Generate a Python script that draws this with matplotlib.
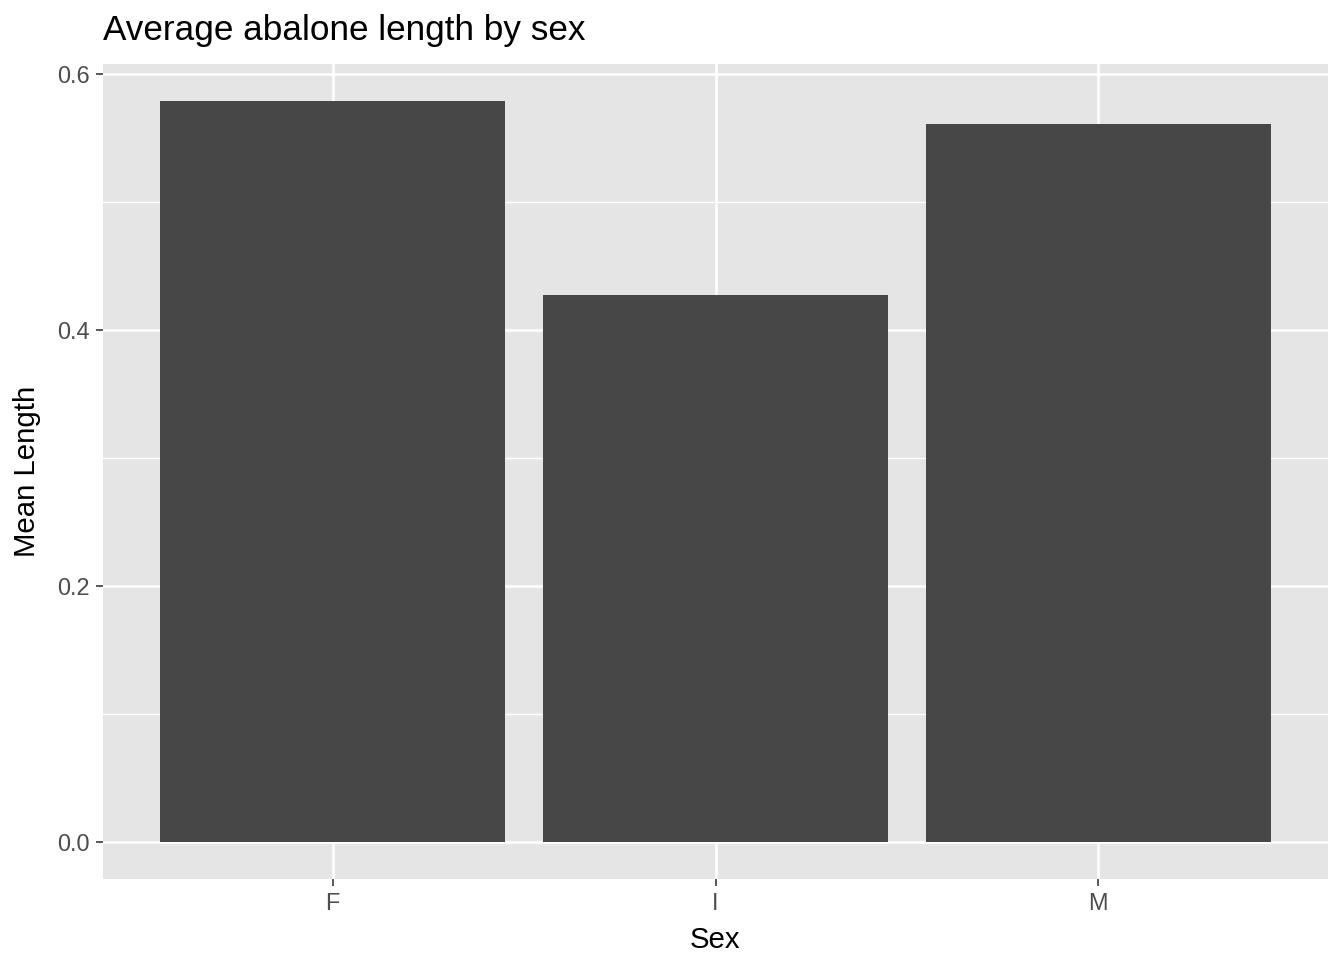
import matplotlib
matplotlib.use("Agg")
import matplotlib.pyplot as plt
from matplotlib.ticker import FixedLocator

plt.rcParams['font.family'] = ['Liberation Sans', 'DejaVu Sans']

sexes = ["F", "I", "M"]
mean_length = [0.5791, 0.4277, 0.5613]

fig = plt.figure(figsize=(7, 5), dpi=192)
ax = fig.add_axes([103/1344, 1 - 879/960, (1328 - 103)/1344, (879 - 64)/960])

ax.set_facecolor("#E5E5E5")
x = list(range(1, len(sexes) + 1))
ax.bar(x, mean_length, width=0.9, color="#474747", zorder=3)

ax.set_xlim(0.4, 3.6)
ymax = max(mean_length)
ax.set_ylim(-0.05 * ymax, 1.05 * ymax)

ax.set_xticks(x)
ax.set_xticklabels(sexes)
ax.set_yticks([0.0, 0.2, 0.4, 0.6])
ax.set_yticklabels(["0.0", "0.2", "0.4", "0.6"])
ax.yaxis.set_minor_locator(FixedLocator([0.1, 0.3, 0.5]))

ax.grid(which="major", color="white", linewidth=1.0, zorder=1)
ax.grid(which="minor", axis="y", color="white", linewidth=0.5, zorder=1)
ax.set_axisbelow(True)
for s in ax.spines.values():
    s.set_visible(False)

ax.tick_params(axis="both", which="major", length=2.75, width=0.6, color="#333333",
               labelcolor="#4D4D4D", labelsize=8.8, pad=2.2)
ax.tick_params(axis="both", which="minor", length=0)

ax.set_xlabel("Sex", fontsize=11, labelpad=4)
ax.set_ylabel("Mean Length", fontsize=11, labelpad=6)
fig.text(103/1344, 1 - 40/960, "Average abalone length by sex", fontsize=13.2,
         ha="left", va="baseline")

fig.savefig("out.png", dpi=192)
